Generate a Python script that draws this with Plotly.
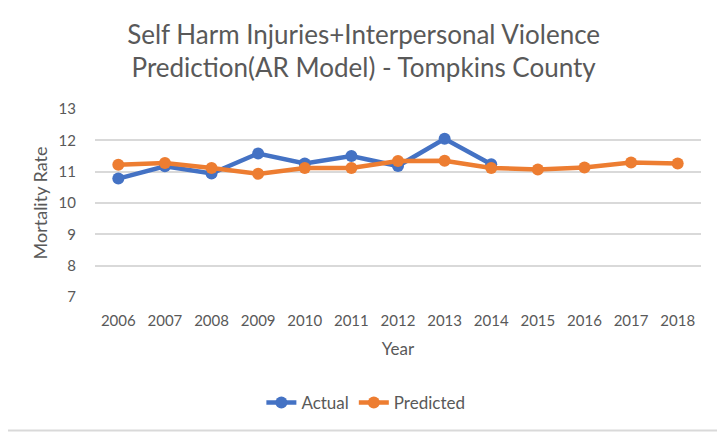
import plotly.graph_objects as go

years = ["2006", "2007", "2008", "2009", "2010", "2011", "2012",
         "2013", "2014", "2015", "2016", "2017", "2018"]
actual = [10.78, 11.17, 10.94, 11.58, 11.26, 11.5, 11.18, 12.05, 11.24]
predicted = [11.22, 11.28, 11.12, 10.93, 11.12, 11.12, 11.34, 11.35,
             11.12, 11.07, 11.13, 11.29, 11.26]
y_ticks = [7, 8, 9, 10, 11, 12, 13]

font_name = "Lato"
grey = "#595959"
frame = "#D9D9D9"

# page body has an 8px margin, so the figure is 8px smaller than the window
W, H = 717, 428

fig = go.Figure()
fig.add_trace(go.Scatter(x=years[:len(actual)], y=actual, name="Actual",
                         mode="lines+markers",
                         line=dict(color="#4472C4", width=4.5),
                         marker=dict(size=12, color="#4472C4")))
fig.add_trace(go.Scatter(x=years, y=predicted, name="Predicted",
                         mode="lines+markers",
                         line=dict(color="#ED7D31", width=4.5),
                         marker=dict(size=12, color="#ED7D31")))

fig.update_layout(
    width=W, height=H,
    margin=dict(l=87, r=24, t=101, b=139, autoexpand=False),
    paper_bgcolor="white", plot_bgcolor="white",
    font=dict(family=font_name, color=grey, size=13),
    title=dict(text="Self Harm Injuries+Interpersonal Violence<br>Prediction(AR Model) - Tompkins County",
               x=0.496, xanchor="center", y=0.917, yanchor="middle",
               font=dict(size=26, color=grey, family=font_name)),
    showlegend=True,
    legend=dict(orientation="h", x=0.447, xanchor="center", y=-0.564, yanchor="middle",
                font=dict(size=17, color=grey)),
    shapes=[
        # chart frame: right and bottom edges (left/top fall in the page margin)
        dict(type="line", xref="paper", yref="paper",
             x0=1.033, x1=1.033, y0=-0.71, y1=1.6,
             line=dict(color=frame, width=2)),
        dict(type="line", xref="paper", yref="paper",
             x0=-0.2, x1=1.033, y0=-0.71, y1=-0.71,
             line=dict(color=frame, width=2)),
    ],
)
fig.update_xaxes(type="category", range=[-0.5, 12.5], showgrid=False,
                 showline=False, ticks="", tickfont=dict(size=15),
                 ticklabelstandoff=13, automargin=False,
                 title=dict(text="Year", font=dict(size=17), standoff=15))
fig.update_yaxes(range=[7, 13], tickvals=y_ticks, showgrid=True,
                 gridcolor=frame, gridwidth=1.5, zeroline=False,
                 showline=False, ticks="", tickfont=dict(size=15),
                 ticklabelstandoff=18, automargin=False,
                 title=dict(text="Mortality Rate", font=dict(size=18), standoff=6))

fig.write_html("out.html")
